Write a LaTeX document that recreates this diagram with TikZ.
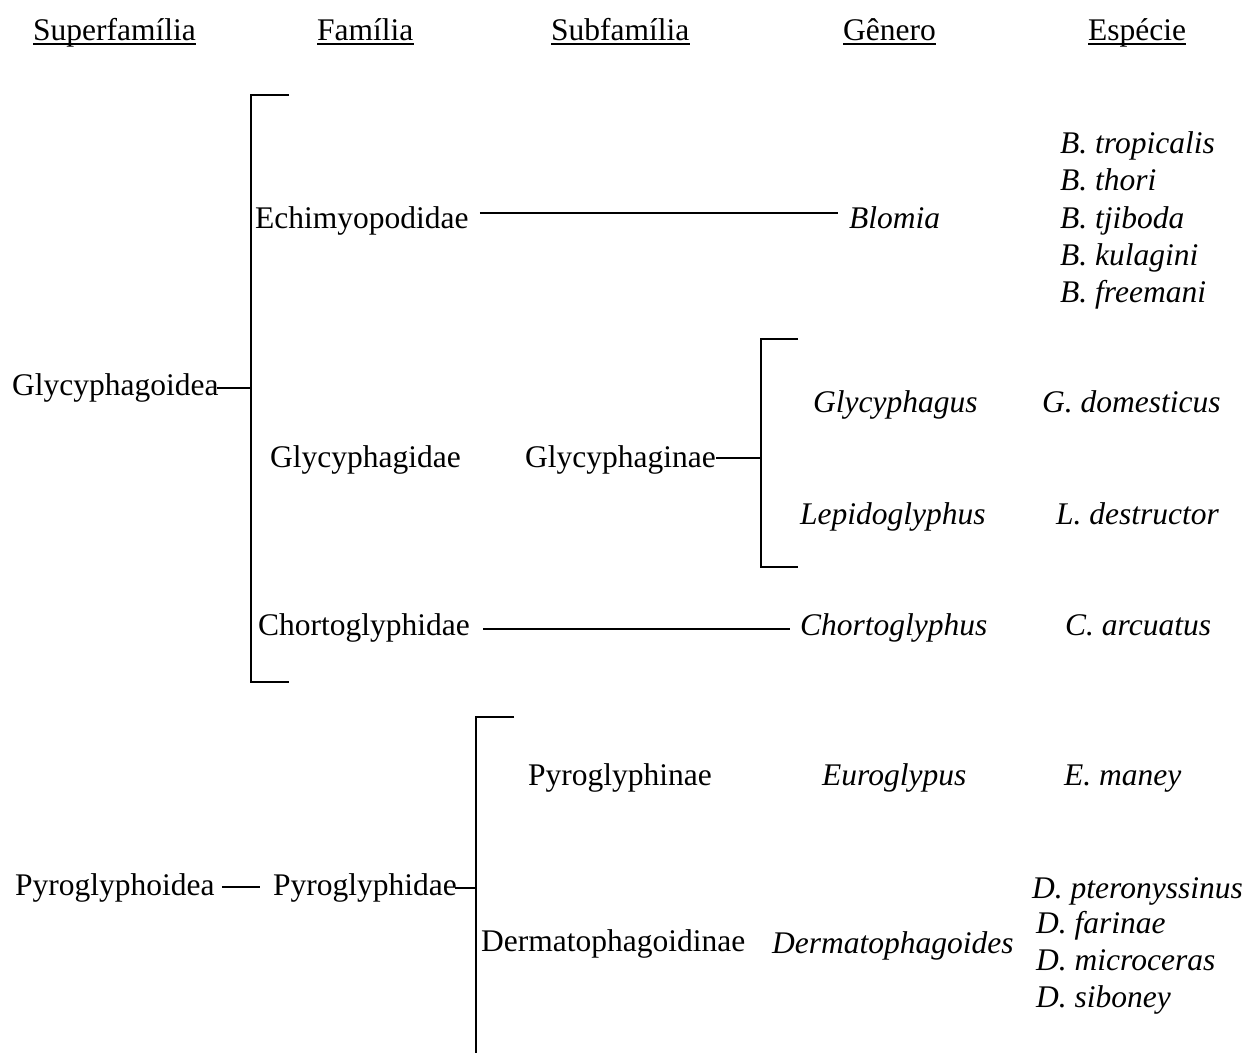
\documentclass[tikz,border=0pt]{standalone}
\usepackage{fontspec}
\setmainfont{Liberation Serif}
\usetikzlibrary{calc}
\begin{document}
\begin{tikzpicture}[x=1pt,y=-1pt,
  lbl/.style={anchor=base west,inner sep=0pt,font=\fontsize{31.5}{36}\selectfont},
  ilbl/.style={lbl,font=\fontsize{31.5}{36}\selectfont\itshape},
  conn/.style={line width=2pt},
  uline/.style={line width=1.6pt}]
\useasboundingbox (0,0) rectangle (1250,1052);
% headers
\node[lbl] (sup)  at (33,40)   {Superfamília};
\node[lbl] (fam)  at (317,40)  {Família};
\node[lbl] (subf) at (551,40)  {Subfamília};
\node[lbl] (gen)  at (843,40)  {Gênero};
\node[lbl] (esp)  at (1088,40) {Espécie};
\foreach \n in {sup,fam,subf,gen,esp}
  \draw[uline] ($(\n.base west)+(0,4)$) -- ($(\n.base east)+(0,4)$);
% Glycyphagoidea block
\node[lbl] (glyc) at (12,395) {Glycyphagoidea};
\node[lbl] (echi) at (255,228) {Echimyopodidae};
\node[ilbl] (blomia) at (849,228) {Blomia};
\node[ilbl] (btro) at (1060,153) {B. tropicalis};
\node[ilbl] (btho) at (1060,190) {B. thori};
\node[ilbl] (btji) at (1060,228) {B. tjiboda};
\node[ilbl] (bkul) at (1060,265) {B. kulagini};
\node[ilbl] (bfre) at (1060,302) {B. freemani};
\node[lbl] (glycidae) at (270,467) {Glycyphagidae};
\node[lbl] (glycinae) at (525,467) {Glycyphaginae};
\node[ilbl] (glycyph) at (813,412) {Glycyphagus};
\node[ilbl] (gdom) at (1042,412) {G. domesticus};
\node[ilbl] (lepido) at (800,524) {Lepidoglyphus};
\node[ilbl] (ldes) at (1056,524) {L. destructor};
\node[lbl] (chorto) at (258,635) {Chortoglyphidae};
\node[ilbl] (chortog) at (800,635) {Chortoglyphus};
\node[ilbl] (carc) at (1065,635) {C. arcuatus};
% Pyroglyphoidea block
\node[lbl] (pyroid) at (15,895) {Pyroglyphoidea};
\node[lbl] (pyridae) at (273,895) {Pyroglyphidae};
\node[lbl] (pyrinae) at (528,785) {Pyroglyphinae};
\node[ilbl] (euro) at (822,785) {Euroglypus};
\node[ilbl] (emaney) at (1064,785) {E. maney};
\node[lbl] (derm) at (481,951) {Dermatophagoidinae};
\node[ilbl] (dermg) at (772,953) {Dermatophagoides};
\node[ilbl] (dpte) at (1032,898) {D. pteronyssinus};
\node[ilbl] (dfar) at (1036,933) {D. farinae};
\node[ilbl] (dmic) at (1036,970) {D. microceras};
\node[ilbl] (dsib) at (1036,1007) {D. siboney};
% bracket coordinates
\coordinate (b1t) at (289,95);  \coordinate (b1tc) at (251,95);
\coordinate (b1m) at (251,388);
\coordinate (b1bc) at (251,682); \coordinate (b1b) at (289,682);
\coordinate (b2t) at (798,339); \coordinate (b2tc) at (761,339);
\coordinate (b2m) at (761,458);
\coordinate (b2bc) at (761,567); \coordinate (b2b) at (798,567);
\coordinate (b3t) at (514,717); \coordinate (b3tc) at (476,717);
\coordinate (b3m) at (476,888);
\coordinate (b3b) at (476,1053);
% brackets
\draw[conn] (b1t) -- (b1tc) -- (b1bc) -- (b1b);
\draw[conn] (b2t) -- (b2tc) -- (b2bc) -- (b2b);
\draw[conn] (b3t) -- (b3tc) -- (b3b);
% connectors
\draw[conn] ($(glyc.base east)+(-2,-7)$) -- (b1m);
\draw[conn] ($(echi.base east)+(11,-15)$) -- ($(blomia.base west)+(-11,-15)$);
\draw[conn] ($(glycinae.base east)+(0,-9)$) -- (b2m);
\draw[conn] ($(chorto.base east)+(13,-6)$) -- ($(chortog.base west)+(-10,-6)$);
\draw[conn] ($(pyroid.base east)+(7,-8)$) -- ($(pyridae.base west)+(-13,-8)$);
\draw[conn] ($(pyridae.base east)+(-2,-7)$) -- (b3m);
\end{tikzpicture}
\end{document}
